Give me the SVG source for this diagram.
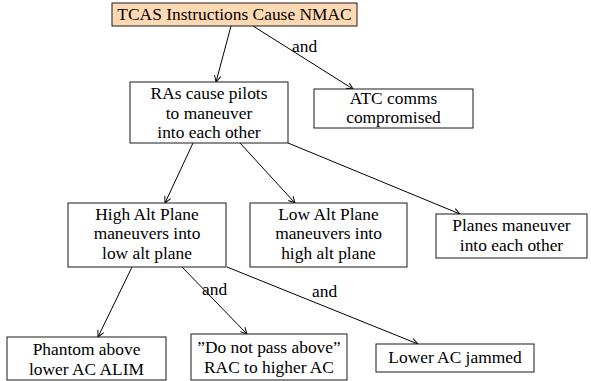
<svg xmlns="http://www.w3.org/2000/svg" width="591" height="381" viewBox="0 0 591 381">
<style>
  .box { fill: #ffffff; stroke: #1a1a1a; stroke-width: 1; }
  .root { fill: #ffd9b3; stroke: #1a1a1a; stroke-width: 1; }
  text { font-family: 'Liberation Serif', 'Times New Roman', serif; font-size: 17.4px; fill: #000; text-anchor: middle; }
  .lbl { text-anchor: start; }
  .edge { stroke: #000; stroke-width: 1; fill: none; marker-end: url(#arr); }
</style>
<defs>
  <marker id="arr" viewBox="0 0 10 10" refX="9" refY="5" markerWidth="8" markerHeight="8" markerUnits="userSpaceOnUse" orient="auto">
    <path d="M1,1 L9,5 L1,9" fill="none" stroke="#000" stroke-width="1.2"/>
  </marker>
</defs>
<g id="connectors">
  <line class="edge" x1="231" y1="26" x2="216" y2="82"/>
  <line class="edge" x1="253" y1="26" x2="353" y2="89"/>
  <line class="edge" x1="193" y1="143" x2="165" y2="203"/>
  <line class="edge" x1="240" y1="143" x2="295" y2="203"/>
  <line class="edge" x1="288" y1="143" x2="460" y2="214"/>
  <line class="edge" x1="132" y1="267" x2="98" y2="337"/>
  <line class="edge" x1="182" y1="267" x2="247" y2="334"/>
  <line class="edge" x1="227" y1="267" x2="418" y2="344"/>
  <text class="lbl" x="292" y="52">and</text>
  <text class="lbl" x="202" y="295">and</text>
  <text class="lbl" x="312" y="297">and</text>
</g>
<g id="n-root">
  <rect class="root" x="112" y="3" width="245" height="23"/>
  <text x="234.5" y="20">TCAS Instructions Cause NMAC</text>
</g>
<g id="n-ras">
  <rect class="box" x="130" y="82" width="158" height="61"/>
  <text x="209" y="99">RAs cause pilots</text>
  <text x="209" y="118.5">to maneuver</text>
  <text x="209" y="138">into each other</text>
</g>
<g id="n-atc">
  <rect class="box" x="314" y="89" width="159" height="39"/>
  <text x="393.5" y="103.5">ATC comms</text>
  <text x="393.5" y="123">compromised</text>
</g>
<g id="n-high">
  <rect class="box" x="68" y="203" width="158" height="64"/>
  <text x="147" y="219.5">High Alt Plane</text>
  <text x="147" y="239">maneuvers into</text>
  <text x="147" y="258.5">low alt plane</text>
</g>
<g id="n-low">
  <rect class="box" x="250" y="203" width="157" height="64"/>
  <text x="328.5" y="219.5">Low Alt Plane</text>
  <text x="328.5" y="239">maneuvers into</text>
  <text x="328.5" y="258.5">high alt plane</text>
</g>
<g id="n-planes">
  <rect class="box" x="436" y="214" width="151" height="44"/>
  <text x="511.5" y="231">Planes maneuver</text>
  <text x="511.5" y="250.5">into each other</text>
</g>
<g id="n-phantom">
  <rect class="box" x="7" y="337" width="159" height="43"/>
  <text x="86.5" y="355">Phantom above</text>
  <text x="86.5" y="374.5">lower AC ALIM</text>
</g>
<g id="n-dnpa">
  <rect class="box" x="191" y="334" width="156" height="46"/>
  <text x="269" y="353">”Do not pass above”</text>
  <text x="269" y="373">RAC to higher AC</text>
</g>
<g id="n-jam">
  <rect class="box" x="376" y="344" width="158" height="28"/>
  <text x="455" y="363">Lower AC jammed</text>
</g>
</svg>
